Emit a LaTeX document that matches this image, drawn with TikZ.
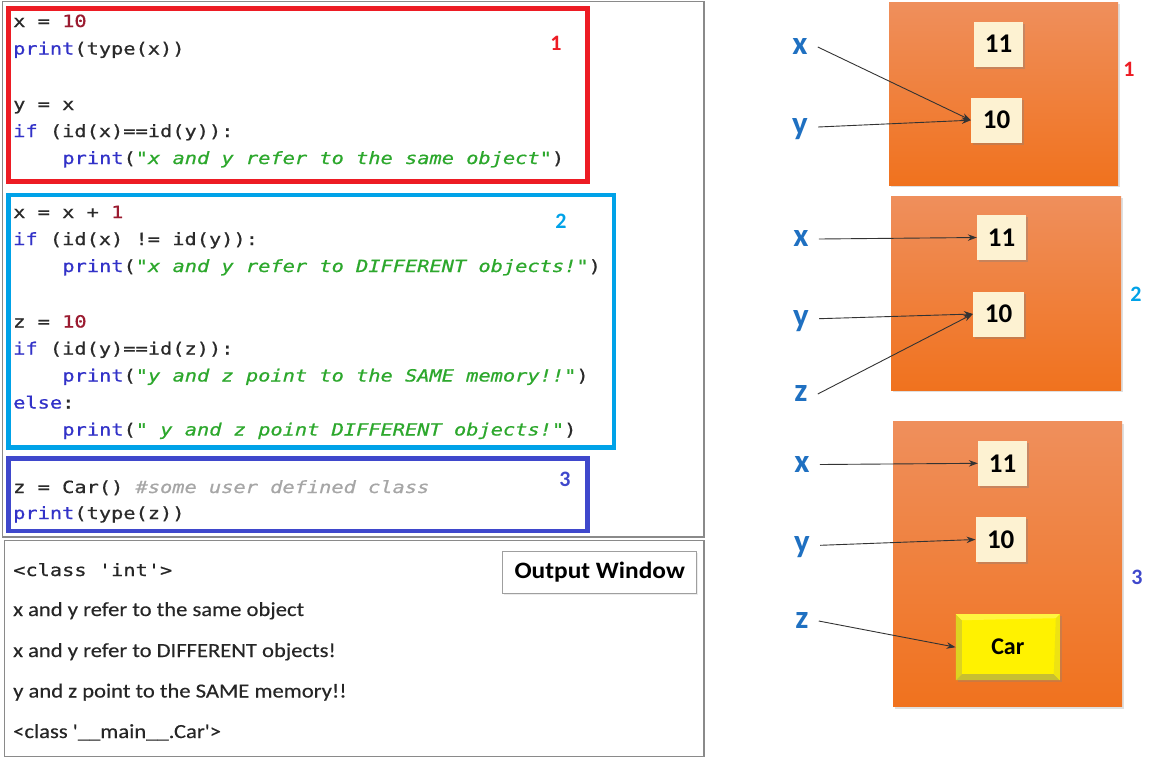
\documentclass[tikz,border=0pt]{standalone}
\usepackage{fontspec}
\usetikzlibrary{arrows.meta,shadows}
\newfontfamily\codefont[FakeStretch=1.21,FakeBold=0.7]{DejaVu Sans Mono}
\newfontfamily\calfont[FakeStretch=1.13,FakeBold=0.3]{Carlito}
\newfontfamily\owfont[FakeStretch=1.08]{Carlito}
\newfontfamily\labfont{Carlito}
\definecolor{kwc}{HTML}{3232C8}
\definecolor{numc}{HTML}{9B1B30}
\definecolor{strc}{HTML}{2DA82D}
\definecolor{comc}{HTML}{A6A6A6}
\definecolor{txtc}{HTML}{2A2A2A}
\definecolor{redc}{HTML}{ED1C24}
\definecolor{cyanc}{HTML}{00A2E8}
\definecolor{bluec}{HTML}{3F48CC}
\definecolor{labc}{HTML}{1F70C1}
\definecolor{orTop}{HTML}{EF8F5C}
\definecolor{orBot}{HTML}{F0721E}
\definecolor{cream}{HTML}{FDF2D2}
\definecolor{panelgray}{HTML}{8A8A8A}
\newcommand{\ckw}[1]{\textcolor{kwc}{#1}}
\newcommand{\cnum}[1]{\textcolor{numc}{#1}}
\newcommand{\cstr}[1]{\textcolor{strc}{\itshape #1}}
\newcommand{\ccom}[1]{\textcolor{comc}{\itshape #1}}
\tikzset{
  code/.style={anchor=base west, inner sep=0pt, font=\codefont\fontsize{16.8}{20}\selectfont, text=txtc},
  outl/.style={anchor=base west, inner sep=0pt, font=\calfont\fontsize{20}{24}\selectfont, text=black!85},
  codeframe/.style={line width=4.5pt},
  numlab/.style={font=\labfont\bfseries\fontsize{22}{24}\selectfont, inner sep=0pt},
  panel/.style={draw=none, top color=orTop, bottom color=orBot, inner sep=0pt,
    drop shadow={opacity=0.25, shadow xshift=2pt, shadow yshift=-2pt}},
  valbox/.style={fill=cream, inner sep=0pt, minimum width=49pt, minimum height=45pt,
    font=\labfont\bfseries\fontsize{27}{30}\selectfont,
    drop shadow={opacity=0.35, shadow xshift=2pt, shadow yshift=-2pt}},
  var/.style={font=\labfont\bfseries\fontsize{33}{36}\selectfont, text=labc,
    inner xsep=10pt, inner ysep=0pt, text height=15pt, text depth=0pt},
  ptr/.style={-{Stealth[length=9pt,width=6.5pt]}, line width=0.9pt, draw=black!80},
  carbox/.style={fill=yellow, inner sep=0pt, minimum width=104pt, minimum height=66pt,
    font=\labfont\bfseries\fontsize{24}{28}\selectfont,
    drop shadow={opacity=0.3, shadow xshift=2pt, shadow yshift=-2pt},
    path picture={
      \fill[yellow!85!black] (path picture bounding box.south west) -- (path picture bounding box.north west)
        -- ([shift={(6pt,-6pt)}]path picture bounding box.north west) -- ([shift={(6pt,6pt)}]path picture bounding box.south west) -- cycle;
      \fill[yellow!75!black] (path picture bounding box.south west) -- (path picture bounding box.south east)
        -- ([shift={(-6pt,6pt)}]path picture bounding box.south east) -- ([shift={(6pt,6pt)}]path picture bounding box.south west) -- cycle;
      \fill[yellow!75!white] (path picture bounding box.north west) -- (path picture bounding box.north east)
        -- ([shift={(-4pt,-4pt)}]path picture bounding box.north east) -- ([shift={(6pt,-6pt)}]path picture bounding box.north west) -- cycle;
      \fill[yellow!92!black] (path picture bounding box.north east) -- (path picture bounding box.south east)
        -- ([shift={(-6pt,6pt)}]path picture bounding box.south east) -- ([shift={(-4pt,-4pt)}]path picture bounding box.north east) -- cycle;
    }},
  outwin/.style={draw=gray!75, line width=1pt, fill=white, inner sep=0pt,
    minimum width=194pt, minimum height=41.6pt,
    font=\owfont\bfseries\fontsize{23.5}{26}\selectfont,
    drop shadow={opacity=0.15, shadow xshift=1.5pt, shadow yshift=-1.5pt}}
}
\begin{document}
\begin{tikzpicture}[x=1pt,y=-1pt]
\fill[white] (0,0) rectangle (1153,764);
\useasboundingbox (0,0) rectangle (1153,764);

% ---------- code panel ----------
\draw[panelgray, line width=1.3pt, fill=white] (2.5,1.5) rectangle (704,537);
\draw[redc, codeframe] (8.5,8.5) rectangle (587.5,181.5);
\draw[cyanc, codeframe] (8.5,195) rectangle (614,447.5);
\draw[bluec, codeframe] (8.5,458.5) rectangle (587.5,531);

\node[code] (a1) at (13,27) {x = \cnum{10}};
\node[code] (a2) at (13,54.5) {\ckw{print}(type(x))};
\node[code] (a3) at (13,110) {y = x};
\node[code] (a4) at (13,137) {\ckw{if} (id(x)==id(y)):};
\node[code] (a5) at (62.2,164) {\ckw{print}(\cstr{"x and y refer to the same object"})};

\node[code] (b1) at (13,218) {x = x + \cnum{1}};
\node[code] (b2) at (13,245) {\ckw{if} (id(x) != id(y)):};
\node[code] (b3) at (62.2,272) {\ckw{print}(\cstr{"x and y refer to DIFFERENT objects!"})};
\node[code] (b4) at (13,327.5) {z = \cnum{10}};
\node[code] (b5) at (13,354.5) {\ckw{if} (id(y)==id(z)):};
\node[code] (b6) at (62.2,381.5) {\ckw{print}(\cstr{"y and z point to the SAME memory!!"})};
\node[code] (b7) at (13,408.5) {\ckw{else}:};
\node[code] (b8) at (62.2,435.5) {\ckw{print}(\cstr{" y and z point DIFFERENT objects!"})};

\node[code] (d1) at (13,493) {z = Car() \ccom{\#some user defined class}};
\node[code] (d2) at (13,519) {\ckw{print}(type(z))};

\node[numlab, text=redc] (n1) at (556,43) {1};
\node[numlab, text=cyanc] (n2) at (561,221) {2};
\node[numlab, text=bluec] (n3) at (565,479) {3};

% ---------- output panel ----------
\draw[panelgray, line width=1.3pt, fill=white] (4.5,540.5) rectangle (704,756.5);
\node[outwin] (ow) at (599.7,572.5) {Output Window};
\node[code, text=black!85] (o1) at (13,576) {<class 'int'>};
\node[outl] (o2) at (13,616) {x and y refer to the same object};
\node[outl] (o3) at (13,657) {x and y refer to DIFFERENT objects!};
\node[outl] (o4) at (13,697.5) {y and z point to the SAME memory!!};
\node[outl] (o5) at (13,738) {<class '\_\_main\_\_.Car'>};

% ---------- memory diagrams ----------
% panel 1
\node[panel, minimum width=229pt, minimum height=183pt] (p1) at (1003.5,93.5) {};
\node[valbox] (p1v11) at (998.5,44.2) {11};
\node[valbox, minimum width=51pt] (p1v10) at (996.5,120.2) {10};
\node[var] (p1x) at (800,47) {x};
\node[var] (p1y) at (800,127) {y};
\draw[ptr] (p1x.east) -- (p1v10.west);
\draw[ptr] (p1y.east) -- (p1v10.west);
\node[numlab, text=redc] (r1) at (1129,69) {1};

% panel 2
\node[panel, minimum width=230pt, minimum height=194pt] (p2) at (1006,293) {};
\node[valbox] (p2v11) at (1001.5,237.5) {11};
\node[valbox, minimum width=51pt] (p2v10) at (998.5,314) {10};
\node[var] (p2x) at (801,239) {x};
\node[var] (p2y) at (801,318.7) {y};
\node[var] (p2z) at (801,394) {z};
\draw[ptr] (p2x.east) -- (p2v11.west);
\draw[ptr] (p2y.east) -- (p2v10.west);
\draw[ptr] (p2z.east) -- (p2v10.west);
\node[numlab, text=cyanc] (r2) at (1136,294) {2};

% panel 3
\node[panel, minimum width=229pt, minimum height=285pt] (p3) at (1007.5,564.2) {};
\node[valbox] (p3v11) at (1002.5,463.3) {11};
\node[valbox, minimum width=50pt] (p3v10) at (1000.7,539.5) {10};
\node[carbox] (car) at (1007.8,647.2) {Car};
\node[var] (p3x) at (802,464.5) {x};
\node[var] (p3y) at (802,545.3) {y};
\node[var] (p3z) at (802,621) {z};
\draw[ptr] (p3x.east) -- (p3v11.west);
\draw[ptr] (p3y.east) -- (p3v10.west);
\draw[ptr] (p3z.east) -- (car.west);
\node[numlab, text=bluec] (r3) at (1137,577) {3};
\end{tikzpicture}
\end{document}
